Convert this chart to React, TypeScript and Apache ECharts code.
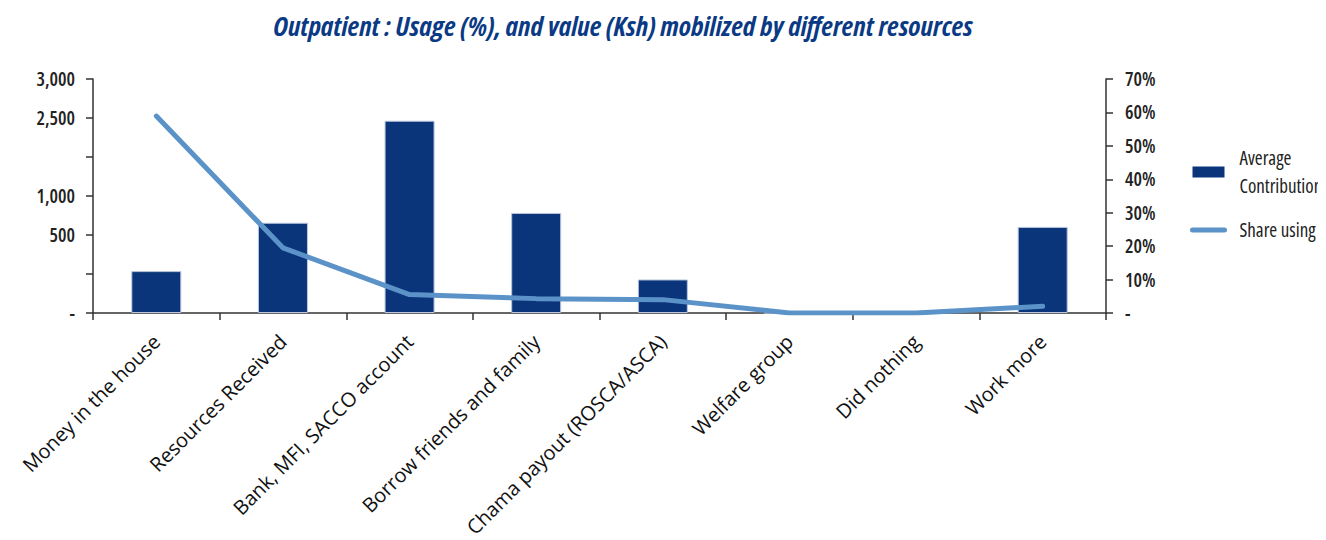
import React, { useEffect, useRef } from "react";
import * as echarts from "echarts";

const categories = [
  "Money in the house",
  "Resources Received",
  "Bank, MFI, SACCO account",
  "Borrow friends and family",
  "Chama payout (ROSCA/ASCA)",
  "Welfare group",
  "Did nothing",
  "Work more",
];
const averageContribution = [537, 1157, 2465, 1283, 430, 0, 0, 1104];
const shareUsing = [58.9, 19.5, 5.5, 4.3, 4.0, 0, 0, 2.0];
const leftTickLabels = ["-", "", "500", "1,000", "", "2,500", "3,000"];
const rightTickLabels = ["-", "10%", "20%", "30%", "40%", "50%", "60%", "70%"];
const titleText = "Outpatient : Usage (%), and value (Ksh) mobilized by different resources";

const NAVY = "#0a357a";
const LIGHT = "#5b93c9";
const SANS = "'Open Sans', sans-serif";
const COND = "'Open Sans', sans-serif; font-stretch: condensed";

export default function App() {
  const ref = useRef<HTMLDivElement>(null);
  useEffect(() => {
    if (!ref.current) return;
    const chart = echarts.init(ref.current, null, { renderer: "svg" });
    chart.setOption({
      animation: false,
      backgroundColor: "#ffffff",
      graphic: [
        {
          type: "text",
          x: 615,
          y: 17,
          style: {
            text: titleText,
            font: "italic bold condensed 27.5px 'Open Sans'",
            fill: "#0b3a85",
            textAlign: "center",
            textVerticalAlign: "middle",
          },
        },
      ],
      legend: {
        orient: "vertical",
        left: 1177,
        top: 131,
        itemWidth: 32,
        itemHeight: 11,
        itemGap: 16,
        formatter: (name: string) =>
          name === "Average Contribution" ? "Average\nContribution" : name,
        textStyle: {
          fontFamily: COND,
          fontSize: 19,
          lineHeight: 28,
          color: "#222",
          padding: [0, 0, 0, 10],
        },
        data: [
          { name: "Average Contribution", icon: "rect", itemStyle: { borderWidth: 0 } },
          {
            name: "Share using",
            itemStyle: { color: "transparent", borderWidth: 0, opacity: 0 },
            lineStyle: { width: 5, cap: "round", color: LIGHT },
          },
        ],
      },
      grid: {
        left: 85,
        right: 220,
        top: 71,
        bottom: 227,
        containLabel: false,
        outerBoundsMode: "none",
      },
      xAxis: {
        type: "category",
        data: categories,
        axisLine: { lineStyle: { color: "#333", width: 1.5 } },
        axisTick: { show: true, length: 7, lineStyle: { color: "#333", width: 1.5 } },
        axisLabel: {
          rotate: 45,
          interval: 0,
          margin: 25,
          fontFamily: SANS,
          fontSize: 20,
          color: "#111",
        },
      },
      yAxis: [
        {
          type: "value",
          min: 0,
          max: 3000,
          interval: 500,
          position: "left",
          splitLine: { show: false },
          axisLine: { show: true, lineStyle: { color: "#333", width: 1.5 } },
          axisTick: { show: true, inside: false, length: 7, lineStyle: { color: "#333", width: 1.5 } },
          axisLabel: {
            margin: 18,
            fontFamily: COND,
            fontWeight: 600,
            fontSize: 19,
            color: "#222",
            formatter: (v: number) => leftTickLabels[Math.round(v / 500)] ?? "",
          },
        },
        {
          type: "value",
          min: 0,
          max: 70,
          interval: 10,
          position: "right",
          splitLine: { show: false },
          axisLine: { show: true, lineStyle: { color: "#333", width: 1.5 } },
          axisTick: { show: true, inside: false, length: 7, lineStyle: { color: "#333", width: 1.5 } },
          axisLabel: {
            margin: 19,
            fontFamily: COND,
            fontWeight: 600,
            fontSize: 19,
            color: "#222",
            formatter: (v: number) => rightTickLabels[Math.round(v / 10)] ?? "",
          },
        },
      ],
      series: [
        {
          name: "Average Contribution",
          type: "bar",
          yAxisIndex: 0,
          data: averageContribution,
          barWidth: 50,
          itemStyle: { color: NAVY, borderColor: "#b9c6dc", borderWidth: 1 },
        },
        {
          name: "Share using",
          type: "line",
          yAxisIndex: 1,
          data: shareUsing,
          symbol: "none",
          z: 5,
          lineStyle: { color: LIGHT, width: 5, cap: "round", join: "round" },
          itemStyle: { color: LIGHT },
        },
      ],
    });
    return () => chart.dispose();
  }, []);
  return <div ref={ref} style={{ width: 1318, height: 532 }} />;
}
